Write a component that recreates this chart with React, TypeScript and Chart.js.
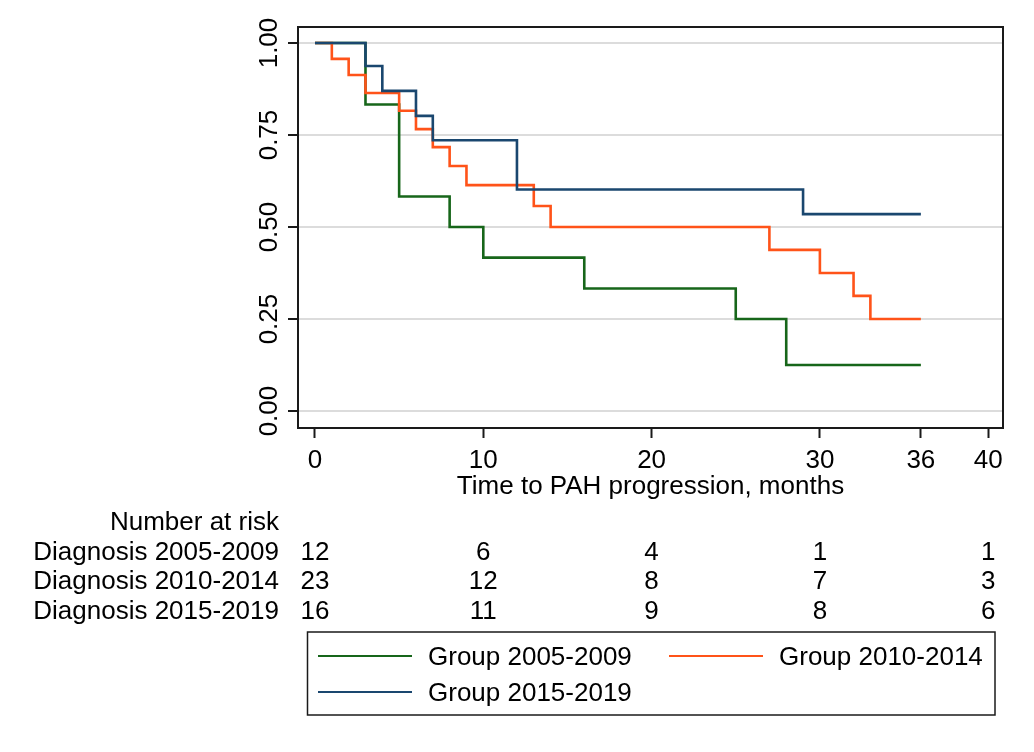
import React, { useEffect, useRef } from 'react';
import { Chart, registerables } from 'chart.js';

Chart.register(...registerables);

// ---- Data ----
const xTicks = [0, 10, 20, 30, 36, 40];
const yTicks = [0, 0.25, 0.5, 0.75, 1];
const riskTimes = [0, 10, 20, 30, 40];

const xTitle = 'Time to PAH progression, months';
const riskTitle = 'Number at risk';
const groupNames = ['Group 2005-2009', 'Group 2010-2014', 'Group 2015-2019'];
const riskLabels = ['Diagnosis 2005-2009', 'Diagnosis 2010-2014', 'Diagnosis 2015-2019'];

const risk2005 = [12, 6, 4, 1, 1];
const risk2010 = [23, 12, 8, 7, 3];
const risk2015 = [16, 11, 9, 8, 6];

const t2005 = [0, 3, 5, 8, 10, 16, 25, 28, 36];
const s2005 = [1, 0.833, 0.583, 0.5, 0.417, 0.333, 0.25, 0.125, 0.125];

const t2010 = [0, 1, 2, 3, 5, 6, 7, 8, 9, 13, 14, 27, 30, 32, 33, 36];
const s2010 = [1, 0.957, 0.913, 0.864, 0.816, 0.766, 0.717, 0.666, 0.614, 0.557, 0.5, 0.438, 0.375, 0.313, 0.25, 0.25];

const t2015 = [0, 3, 4, 6, 7, 12, 29, 36];
const s2015 = [1, 0.9375, 0.87, 0.802, 0.736, 0.602, 0.535, 0.535];

// ---- Styles ----
const colors = ['#17661a', '#ff5319', '#1a476f'];
const FONT = '26px "Liberation Sans", Arial, sans-serif';

const toPts = (t: number[], s: number[]) => t.map((v, i) => ({ x: v, y: s[i] }));

const overlay = {
  id: 'overlay',
  afterDraw(chart: any) {
    const { ctx, chartArea: ca, scales } = chart;
    const xs = scales.x;
    const ys = scales.y;
    ctx.save();
    // plot frame
    ctx.strokeStyle = '#1a1a1a';
    ctx.lineWidth = 2;
    ctx.strokeRect(ca.left, ca.top, ca.right - ca.left, ca.bottom - ca.top);

    ctx.fillStyle = '#000';
    ctx.font = FONT;
    // y tick labels (rotated)
    yTicks.forEach((v) => {
      ctx.save();
      ctx.translate(ca.left - 21, ys.getPixelForValue(v));
      ctx.rotate(-Math.PI / 2);
      ctx.textAlign = 'center';
      ctx.textBaseline = 'alphabetic';
      ctx.fillText(v.toFixed(2), 0, 0);
      ctx.restore();
    });
    // x tick labels
    ctx.textAlign = 'center';
    ctx.textBaseline = 'alphabetic';
    xTicks.forEach((v) => ctx.fillText(String(v), xs.getPixelForValue(v), ca.bottom + 40));
    // x title
    ctx.fillText(xTitle, (ca.left + ca.right) / 2, ca.bottom + 66);

    // risk table
    ctx.textAlign = 'right';
    ctx.fillText(riskTitle, 279, 530);
    const rows = [risk2005, risk2010, risk2015];
    const rowY = [559.5, 589, 618.5];
    rows.forEach((r, i) => {
      ctx.textAlign = 'right';
      ctx.fillText(riskLabels[i], 279, rowY[i]);
      ctx.textAlign = 'center';
      r.forEach((n, j) => ctx.fillText(String(n), xs.getPixelForValue(riskTimes[j]), rowY[i]));
    });

    // legend box
    ctx.strokeStyle = '#1a1a1a';
    ctx.lineWidth = 1.5;
    ctx.strokeRect(307.5, 632, 687.5, 83);
    const leg = [
      { lx: 318, tx: 428, y: 656 },
      { lx: 669, tx: 779, y: 656 },
      { lx: 318, tx: 428, y: 692 },
    ];
    leg.forEach((l, i) => {
      ctx.strokeStyle = colors[i];
      ctx.lineWidth = 2.2;
      ctx.beginPath();
      ctx.moveTo(l.lx, l.y);
      ctx.lineTo(l.lx + 94, l.y);
      ctx.stroke();
      ctx.textAlign = 'left';
      ctx.fillText(groupNames[i], l.tx, l.y + 9);
    });
    ctx.restore();
  },
};

export default function App() {
  const ref = useRef<HTMLCanvasElement | null>(null);
  useEffect(() => {
    if (!ref.current) return;
    const series = [
      { t: t2005, s: s2005 },
      { t: t2010, s: s2010 },
      { t: t2015, s: s2015 },
    ];
    const chart = new Chart(ref.current, {
      type: 'line',
      data: {
        datasets: series.map((d, i) => ({
          label: groupNames[i],
          data: toPts(d.t, d.s),
          borderColor: colors[i],
          borderWidth: 2.6,
          pointRadius: 0,
          fill: false,
          stepped: 'before' as const,
          order: 3 - i,
        })),
      },
      options: {
        animation: false,
        responsive: false,
        devicePixelRatio: 1,
        events: [],
        layout: { padding: { top: 27, right: 31, left: 0, bottom: 0 } },
        plugins: { legend: { display: false }, tooltip: { enabled: false } },
        scales: {
          x: {
            type: 'linear',
            min: -1.01,
            max: 40.88,
            afterBuildTicks: (s: any) => {
              s.ticks = xTicks.map((v) => ({ value: v }));
            },
            afterFit: (s: any) => {
              s.height = 324;
            },
            ticks: { display: false },
            grid: {
              drawOnChartArea: false,
              drawTicks: true,
              tickLength: 10,
              tickColor: '#1a1a1a',
              tickWidth: 2,
              color: '#1a1a1a',
            },
            border: { display: true, color: '#1a1a1a', width: 2 },
          },
          y: {
            type: 'linear',
            min: -0.046,
            max: 1.0435,
            afterBuildTicks: (s: any) => {
              s.ticks = yTicks.map((v) => ({ value: v }));
            },
            afterFit: (s: any) => {
              s.width = 298;
            },
            ticks: { display: false },
            grid: {
              color: '#dcdcdc',
              lineWidth: 2,
              drawTicks: true,
              tickLength: 10,
              tickColor: '#1a1a1a',
              tickWidth: 2,
            },
            border: { display: true, color: '#1a1a1a', width: 2 },
          },
        },
      },
      plugins: [overlay],
    });
    return () => chart.destroy();
  }, []);
  return (
    <div style={{ position: 'fixed', left: 0, top: 0, width: 1034, height: 752, background: '#fff' }}>
      <canvas ref={ref} width={1034} height={752} style={{ display: 'block', width: 1034, height: 752 }} />
    </div>
  );
}
